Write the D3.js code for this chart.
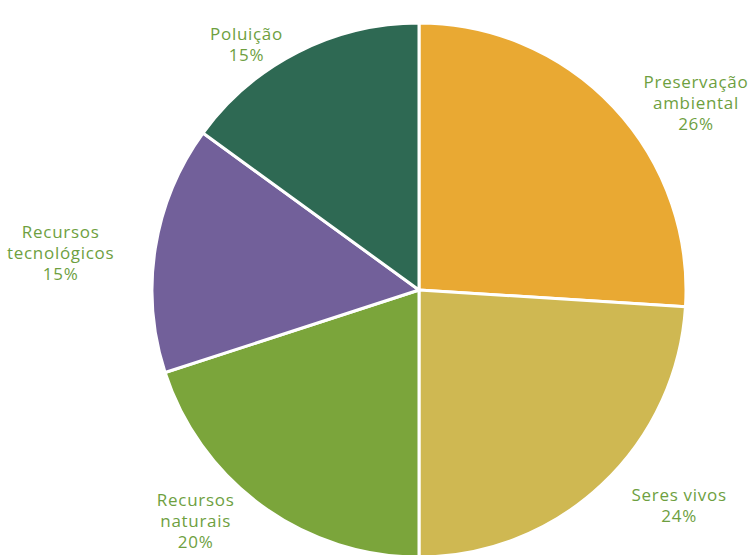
<!DOCTYPE html>
<html>
<head>
<meta charset="utf-8">
<script src="https://cdn.jsdelivr.net/npm/d3@7"></script>
<style>
  body { margin: 0; background: #fff; }
  svg { display: block; }
</style>
</head>
<body>
<div class="chart"></div>
<script>
var categories = [["Preservação", "ambiental"], ["Seres vivos"], ["Recursos", "naturais"], ["Recursos", "tecnológicos"], ["Poluição"]];
var values = [26, 24, 20, 15, 15];
var colors = ["#E9A933", "#CFB852", "#7BA53B", "#72609A", "#2E6953"];

var width = 752, height = 555;
var cx = 419, cy = 290, radius = 267;

var svg = d3.select(".chart").append("svg")
            .attr("width", width)
            .attr("height", height);

var g = svg.append("g").attr("transform", "translate(" + cx + "," + cy + ")");

var pie = d3.pie().sort(null).value(function(d){ return d; });
var arcs = pie(values);

var arc = d3.arc().innerRadius(0).outerRadius(radius);

g.selectAll("path")
 .data(arcs)
 .enter()
 .append("path")
 .attr("d", arc)
 .attr("fill", function(d, i){ return colors[i]; })
 .attr("stroke", "#fff")
 .attr("stroke-width", 3)
 .attr("stroke-linejoin", "round");

// labels sit on an ellipse around the pie, at each slice's mid angle,
// then get nudged back inside the picture
var rx = 380, ry = 285, oy = 8, lineH = 21;
var total = d3.sum(values);

g.selectAll("text.label")
 .data(arcs)
 .enter()
 .append("text")
 .attr("class", "label")
 .attr("text-anchor", "middle")
 .attr("font-family", "'Open Sans', sans-serif")
 .attr("font-size", 17)
 .attr("letter-spacing", 0.7)
 .attr("fill", "#6E9F3F")
 .each(function(d, i){
   var a = (d.startAngle + d.endAngle) / 2;
   var x = rx * Math.sin(a), y = oy - ry * Math.cos(a);
   var lines = categories[i].concat([Math.round(d.data / total * 100) + "%"]);
   var y0 = y - (lines.length - 1) * lineH / 2;
   var t = d3.select(this);
   t.selectAll("tspan")
     .data(lines)
     .enter()
     .append("tspan")
     .attr("x", x)
     .attr("y", function(s, j){ return y0 + j * lineH; })
     .attr("dy", "0.35em")
     .text(function(s){ return s; });
   var b = this.getBBox();
   var padX = 7, padY = 2, sx = 0, sy = 0;
   if (cx + b.x < padX) sx = padX - (cx + b.x);
   if (cx + b.x + b.width > width - padX + 5) sx = width - padX + 5 - (cx + b.x + b.width);
   if (cy + b.y < padY) sy = padY - (cy + b.y);
   if (cy + b.y + b.height > height - padY) sy = height - padY - (cy + b.y + b.height);
   t.attr("transform", "translate(" + sx + "," + sy + ")");
 });
</script>
</body>
</html>
